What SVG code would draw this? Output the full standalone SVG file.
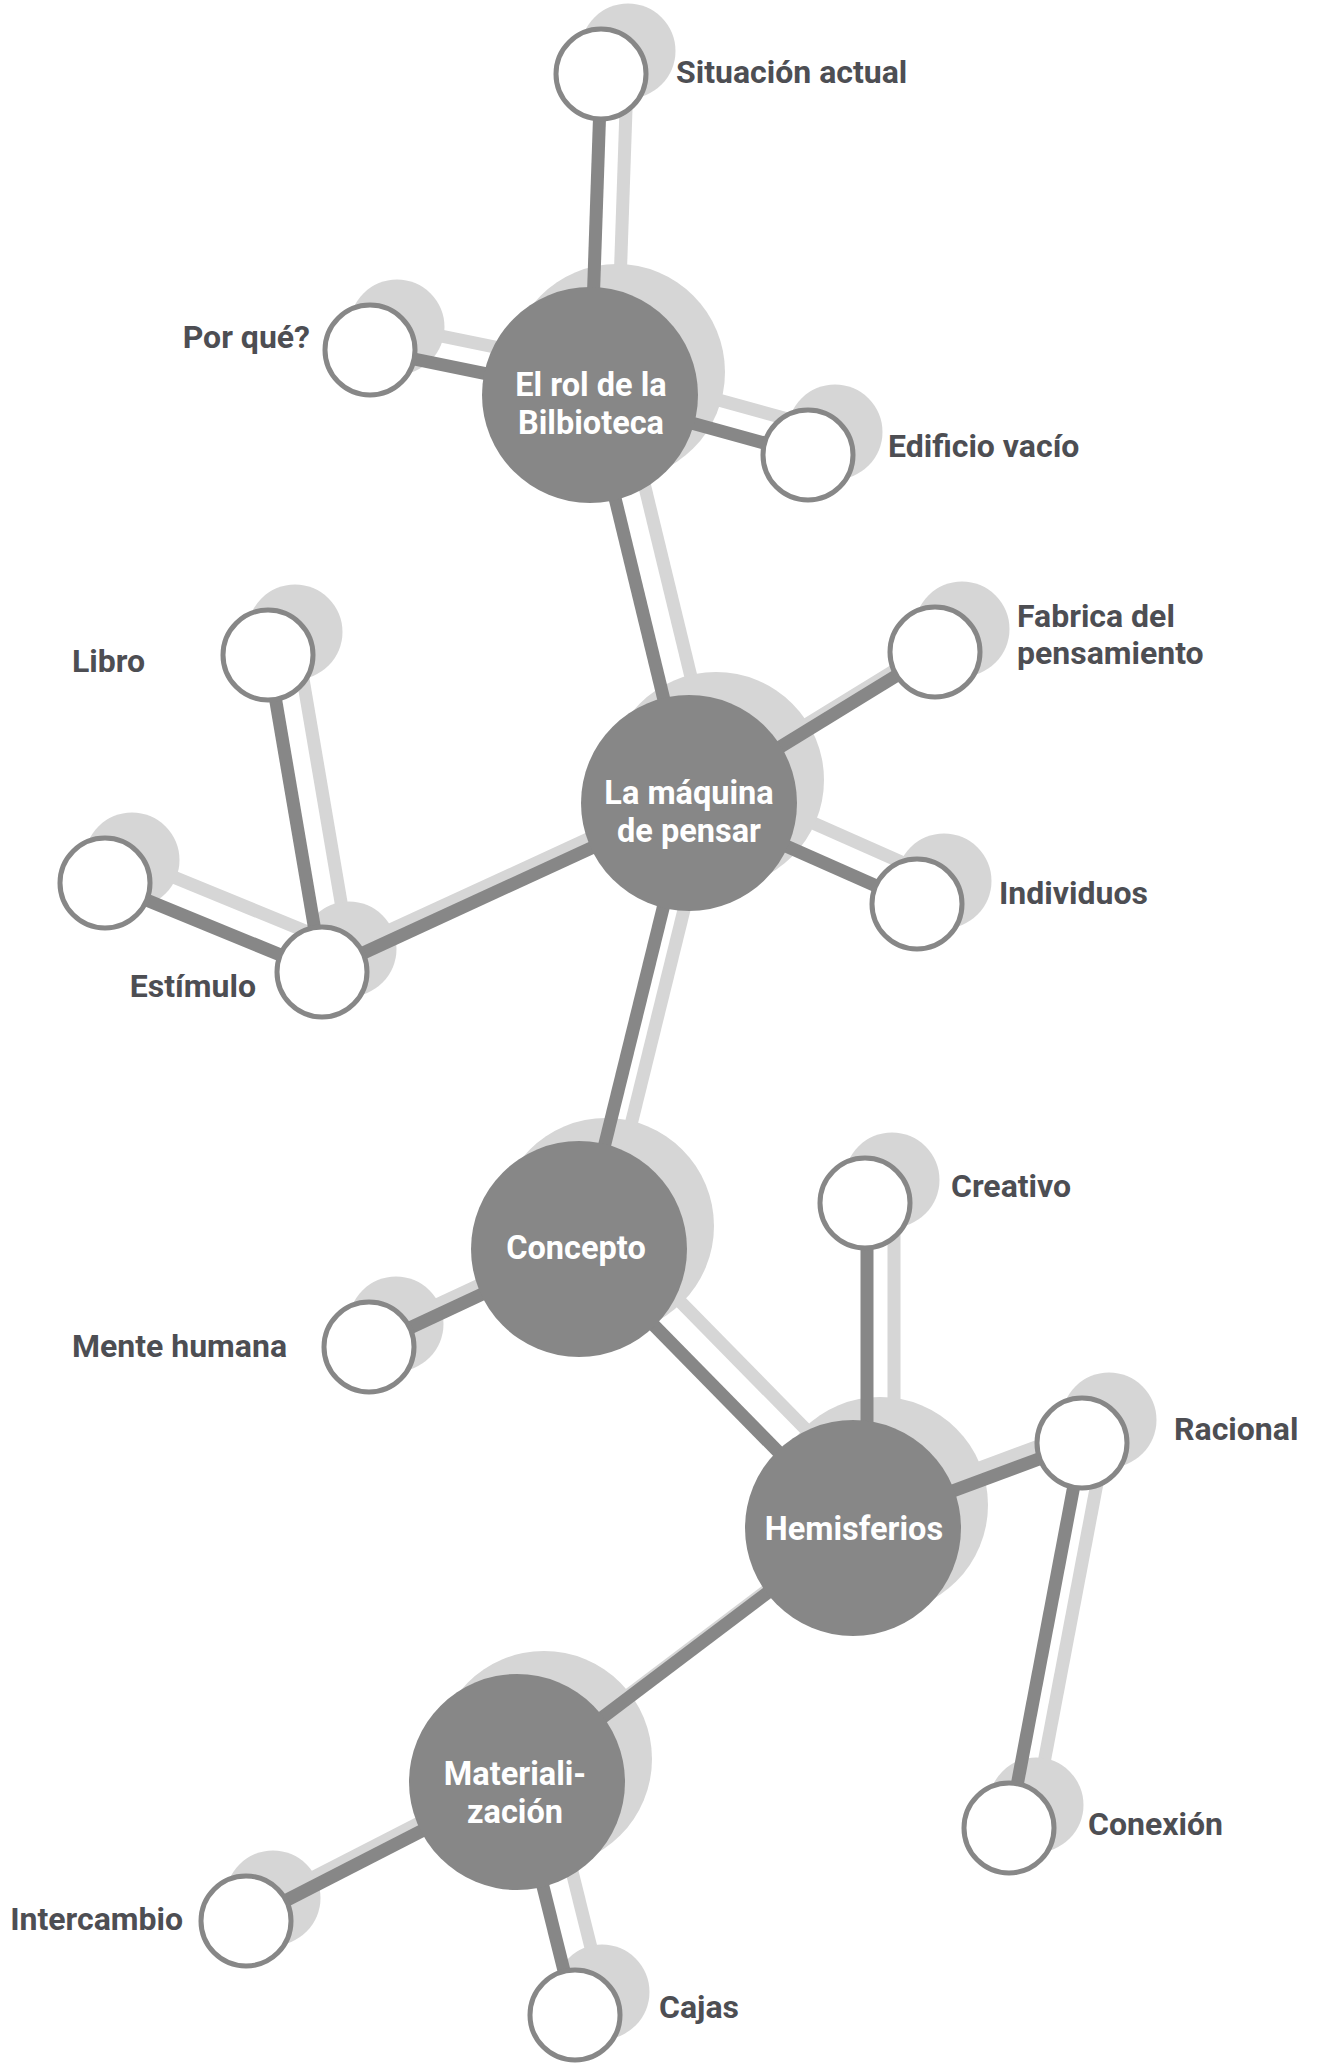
<svg xmlns="http://www.w3.org/2000/svg" width="1319" height="2067" viewBox="0 0 1319 2067">
  <style>
    .shade-line { stroke: #d6d6d6; stroke-width: 13; stroke-linecap: butt; fill: none; }
    .shade-dot { fill: #d6d6d6; }
    .link { stroke: #878787; stroke-width: 13; stroke-linecap: butt; fill: none; }
    .hub { fill: #878787; }
    .leaf { fill: #ffffff; stroke: #878787; stroke-width: 5; }
    .hub-text { font-family: Roboto, "Liberation Sans", sans-serif; font-weight: 700; font-size: 32.5px; fill: #ffffff; text-anchor: middle; }
    .label { font-family: Roboto, "Liberation Sans", sans-serif; font-weight: 700; font-size: 32px; fill: #4d4e53; }
    .end { text-anchor: end; }
  </style>

  <rect width="1319" height="2067" fill="#ffffff"/>

  <!-- drop shadow of the whole network, shifted up and to the right -->
  <g id="shadows" transform="translate(27,-23)">
    <line class="shade-line" x1="601" y1="74" x2="590" y2="395"/>
    <line class="shade-line" x1="370" y1="350" x2="590" y2="395"/>
    <line class="shade-line" x1="808" y1="455" x2="590" y2="395"/>
    <line class="shade-line" x1="590" y1="395" x2="689" y2="803"/>
    <line class="shade-line" x1="689" y1="803" x2="935" y2="652"/>
    <line class="shade-line" x1="689" y1="803" x2="917" y2="904"/>
    <line class="shade-line" x1="689" y1="803" x2="322" y2="972"/>
    <line class="shade-line" x1="322" y1="972" x2="268" y2="655"/>
    <line class="shade-line" x1="322" y1="972" x2="105" y2="883"/>
    <line class="shade-line" x1="689" y1="803" x2="579" y2="1249"/>
    <line class="shade-line" x1="579" y1="1249" x2="369" y2="1347"/>
    <line class="shade-line" x1="579" y1="1249" x2="853" y2="1528"/>
    <line class="shade-line" x1="867" y1="1203" x2="867" y2="1528"/>
    <line class="shade-line" x1="853" y1="1528" x2="1082" y2="1443"/>
    <line class="shade-line" x1="1082" y1="1443" x2="1009" y2="1828"/>
    <line class="shade-line" x1="853" y1="1528" x2="517" y2="1782"/>
    <line class="shade-line" x1="517" y1="1782" x2="246" y2="1921"/>
    <line class="shade-line" x1="517" y1="1782" x2="575" y2="2015"/>

    <circle class="shade-dot" cx="590" cy="395" r="108"/>
    <circle class="shade-dot" cx="689" cy="803" r="108"/>
    <circle class="shade-dot" cx="579" cy="1249" r="108"/>
    <circle class="shade-dot" cx="853" cy="1528" r="108"/>
    <circle class="shade-dot" cx="517" cy="1782" r="108"/>

    <circle class="shade-dot" cx="601" cy="74" r="47.5"/>
    <circle class="shade-dot" cx="370" cy="350" r="47.5"/>
    <circle class="shade-dot" cx="808" cy="455" r="47.5"/>
    <circle class="shade-dot" cx="268" cy="655" r="47.5"/>
    <circle class="shade-dot" cx="935" cy="652" r="47.5"/>
    <circle class="shade-dot" cx="322" cy="972" r="47.5"/>
    <circle class="shade-dot" cx="105" cy="883" r="47.5"/>
    <circle class="shade-dot" cx="917" cy="904" r="47.5"/>
    <circle class="shade-dot" cx="865" cy="1203" r="47.5"/>
    <circle class="shade-dot" cx="369" cy="1347" r="47.5"/>
    <circle class="shade-dot" cx="1082" cy="1443" r="47.5"/>
    <circle class="shade-dot" cx="1009" cy="1828" r="47.5"/>
    <circle class="shade-dot" cx="246" cy="1921" r="47.5"/>
    <circle class="shade-dot" cx="575" cy="2015" r="47.5"/>
  </g>

  <!-- connectors -->
  <g id="connectors">
    <line class="link" x1="601" y1="74" x2="590" y2="395"/>
    <line class="link" x1="370" y1="350" x2="590" y2="395"/>
    <line class="link" x1="808" y1="455" x2="590" y2="395"/>
    <line class="link" x1="590" y1="395" x2="689" y2="803"/>
    <line class="link" x1="689" y1="803" x2="935" y2="652"/>
    <line class="link" x1="689" y1="803" x2="917" y2="904"/>
    <line class="link" x1="689" y1="803" x2="322" y2="972"/>
    <line class="link" x1="322" y1="972" x2="268" y2="655"/>
    <line class="link" x1="322" y1="972" x2="105" y2="883"/>
    <line class="link" x1="689" y1="803" x2="579" y2="1249"/>
    <line class="link" x1="579" y1="1249" x2="369" y2="1347"/>
    <line class="link" x1="579" y1="1249" x2="853" y2="1528"/>
    <line class="link" x1="867" y1="1203" x2="867" y2="1528"/>
    <line class="link" x1="853" y1="1528" x2="1082" y2="1443"/>
    <line class="link" x1="1082" y1="1443" x2="1009" y2="1828"/>
    <line class="link" x1="853" y1="1528" x2="517" y2="1782"/>
    <line class="link" x1="517" y1="1782" x2="246" y2="1921"/>
    <line class="link" x1="517" y1="1782" x2="575" y2="2015"/>
  </g>

  <!-- hub nodes -->
  <g id="node-rol">
    <circle class="hub" cx="590" cy="395" r="108"/>
    <text class="hub-text" x="591" y="396">El rol de la</text>
    <text class="hub-text" x="591" y="434">Bilbioteca</text>
  </g>
  <g id="node-maquina">
    <circle class="hub" cx="689" cy="803" r="108"/>
    <text class="hub-text" x="689" y="804">La máquina</text>
    <text class="hub-text" x="689" y="842">de pensar</text>
  </g>
  <g id="node-concepto">
    <circle class="hub" cx="579" cy="1249" r="108"/>
    <text class="hub-text" x="576" y="1259">Concepto</text>
  </g>
  <g id="node-hemisferios">
    <circle class="hub" cx="853" cy="1528" r="108"/>
    <text class="hub-text" x="854" y="1540">Hemisferios</text>
  </g>
  <g id="node-materializacion">
    <circle class="hub" cx="517" cy="1782" r="108"/>
    <text class="hub-text" x="515" y="1785">Materiali-</text>
    <text class="hub-text" x="515" y="1823">zación</text>
  </g>

  <!-- leaf nodes -->
  <g id="node-situacion">
    <circle class="leaf" cx="601" cy="74" r="45"/>
    <text class="label" x="676" y="83">Situación actual</text>
  </g>
  <g id="node-porque">
    <circle class="leaf" cx="370" cy="350" r="45"/>
    <text class="label end" x="310" y="348">Por qué?</text>
  </g>
  <g id="node-edificio">
    <circle class="leaf" cx="808" cy="455" r="45"/>
    <text class="label" x="888" y="457">Edificio vacío</text>
  </g>
  <g id="node-libro">
    <circle class="leaf" cx="268" cy="655" r="45"/>
    <text class="label" x="72" y="672">Libro</text>
  </g>
  <g id="node-fabrica">
    <circle class="leaf" cx="935" cy="652" r="45"/>
    <text class="label" x="1017" y="627">Fabrica del</text>
    <text class="label" x="1017" y="664">pensamiento</text>
  </g>
  <g id="node-estimulo">
    <circle class="leaf" cx="322" cy="972" r="45"/>
    <text class="label end" x="256" y="997">Estímulo</text>
  </g>
  <g id="node-estimulo-extra">
    <circle class="leaf" cx="105" cy="883" r="45"/>
  </g>
  <g id="node-individuos">
    <circle class="leaf" cx="917" cy="904" r="45"/>
    <text class="label" x="999" y="904">Individuos</text>
  </g>
  <g id="node-creativo">
    <circle class="leaf" cx="865" cy="1203" r="45"/>
    <text class="label" x="951" y="1197">Creativo</text>
  </g>
  <g id="node-mente">
    <circle class="leaf" cx="369" cy="1347" r="45"/>
    <text class="label end" x="287" y="1357">Mente humana</text>
  </g>
  <g id="node-racional">
    <circle class="leaf" cx="1082" cy="1443" r="45"/>
    <text class="label" x="1174" y="1440">Racional</text>
  </g>
  <g id="node-conexion">
    <circle class="leaf" cx="1009" cy="1828" r="45"/>
    <text class="label" x="1088" y="1835">Conexión</text>
  </g>
  <g id="node-intercambio">
    <circle class="leaf" cx="246" cy="1921" r="45"/>
    <text class="label end" x="183" y="1930">Intercambio</text>
  </g>
  <g id="node-cajas">
    <circle class="leaf" cx="575" cy="2015" r="45"/>
    <text class="label" x="659" y="2018">Cajas</text>
  </g>
</svg>
